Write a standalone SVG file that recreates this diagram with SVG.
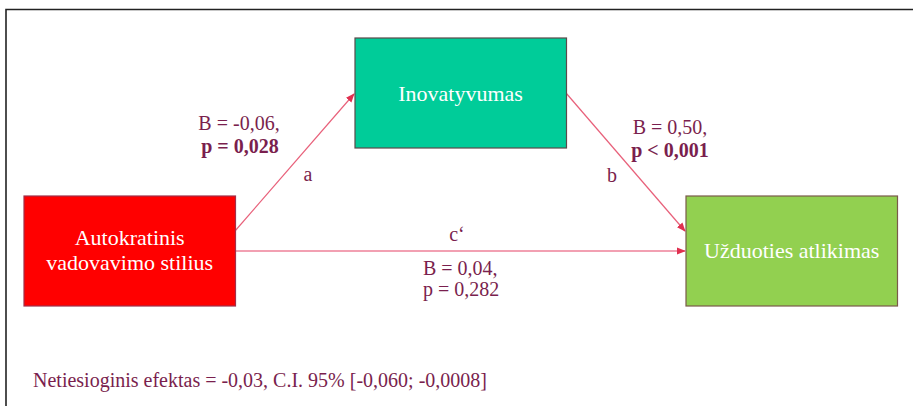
<svg xmlns="http://www.w3.org/2000/svg" width="913" height="406" viewBox="0 0 913 406">
<style>
.lbl{font-family:"Liberation Serif","Times New Roman",serif;font-size:20px;fill:#7A1F4E}
.b{font-weight:bold}
.nt{font-family:"Liberation Serif","Times New Roman",serif;font-size:22px;fill:#FFFFFF;text-anchor:middle}
.diag{stroke:#E8607A;stroke-width:1.2;fill:none}
.hor{stroke:#F2A0B2;stroke-width:2;fill:none}
</style>
<defs>
<marker id="ah" viewBox="0 0 10 10" refX="9" refY="5" markerWidth="9" markerHeight="9" markerUnits="userSpaceOnUse" orient="auto">
<path d="M0,1 L10,5 L0,9 Z" fill="#E0304F"/>
</marker>
</defs>
<rect width="913" height="406" fill="#FFFFFF"/>
<path d="M6,406 L6,9.5 L913,9.5" stroke="#222" stroke-width="1.6" fill="none"/>
<g id="connectors">
<line class="diag" x1="235" y1="231" x2="354" y2="94" marker-end="url(#ah)"/>
<line class="diag" x1="566" y1="93" x2="685" y2="231" marker-end="url(#ah)"/>
<line class="hor" x1="235" y1="251" x2="685" y2="251" marker-end="url(#ah)"/>
</g>
<g id="node-inovatyvumas">
<rect x="355" y="38" width="211.5" height="110" fill="#00CC99" stroke="#5A4A4A" stroke-width="1.2"/>
<text class="nt" x="460.5" y="101">Inovatyvumas</text>
</g>
<g id="node-autokratinis">
<rect x="24" y="196" width="211.5" height="110" fill="#FF0000" stroke="#A0304A" stroke-width="1.2"/>
<text class="nt" x="129.7" y="245">Autokratinis</text>
<text class="nt" x="129.7" y="270">vadovavimo stilius</text>
</g>
<g id="node-uzduoties">
<rect x="686" y="196" width="211.5" height="110" fill="#92D050" stroke="#7A5A4A" stroke-width="1.2"/>
<text class="nt" x="791.7" y="258">Užduoties atlikimas</text>
</g>
<g id="labels">
<text class="lbl" x="239" y="130" text-anchor="middle">B = -0,06,</text>
<text class="lbl b" x="240" y="153" text-anchor="middle">p = 0,028</text>
<text class="lbl" x="308" y="181" text-anchor="middle">a</text>
<text class="lbl" x="670" y="134" text-anchor="middle">B = 0,50,</text>
<text class="lbl b" x="670" y="157" text-anchor="middle">p &lt; 0,001</text>
<text class="lbl" x="612" y="182" text-anchor="middle">b</text>
<text class="lbl" x="457" y="241" text-anchor="middle">c‘</text>
<text class="lbl" x="423" y="275">B = 0,04,</text>
<text class="lbl" x="423" y="296">p = 0,282</text>
<text class="lbl" x="33" y="387">Netiesioginis efektas = -0,03, C.I. 95% [-0,060; -0,0008]</text>
</g>
</svg>
